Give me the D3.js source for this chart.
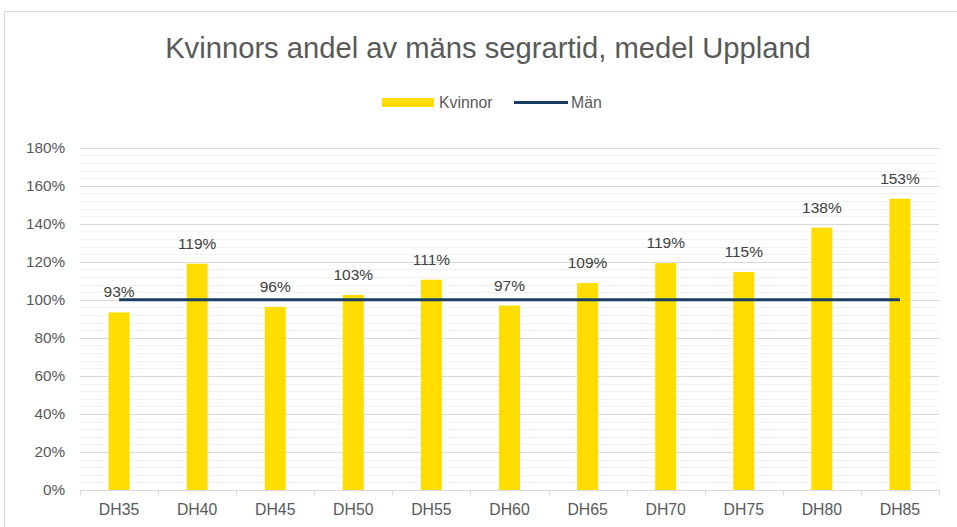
<!DOCTYPE html>
<html>
<head>
<meta charset="utf-8">
<script src="https://cdn.jsdelivr.net/npm/d3@7"></script>
<style>
  body { margin: 0; background: #fff; }
  svg { display: block; font-family: 'Liberation Sans', Arial, sans-serif; }
</style>
</head>
<body>
<div id="chart"></div>
<script>
var categories = ['DH35', 'DH40', 'DH45', 'DH50', 'DH55', 'DH60', 'DH65', 'DH70', 'DH75', 'DH80', 'DH85'];
var kvinnor = [0.934, 1.19, 0.963, 1.026, 1.106, 0.97, 1.088, 1.193, 1.146, 1.38, 1.532];
var man = [1, 1, 1, 1, 1, 1, 1, 1, 1, 1, 1];
var yTicks = [0, 0.2, 0.4, 0.6, 0.8, 1.0, 1.2, 1.4, 1.6, 1.8];

var width = 957, height = 527;
var margin = { left: 80, right: 18, top: 147.7, bottom: 37 };
var textColor = '#595959';
var yellow = '#ffdd00';
var navy = '#183e63';

var svg = d3.select('#chart').append('svg')
    .attr('width', width)
    .attr('height', height);

// outer chart border
svg.append('rect')
    .attr('x', 4.5).attr('y', 11.5)
    .attr('width', 970).attr('height', 530)
    .attr('fill', 'none')
    .attr('stroke', '#d9d9d9');

var x = d3.scaleBand()
    .domain(categories)
    .range([margin.left, width - margin.right]);

var y = d3.scaleLinear()
    .domain([0, 1.8])
    .range([height - margin.bottom, margin.top]);

// minor gridlines (every 4%)
var minor = d3.range(0, 1.8001, 0.04).filter(function(v) {
    return Math.abs(v * 5 - Math.round(v * 5)) > 1e-6;
});
svg.append('g').selectAll('line').data(minor).join('line')
    .attr('x1', margin.left).attr('x2', width - margin.right)
    .attr('y1', function(d) { return Math.round(y(d)) + 0.5; })
    .attr('y2', function(d) { return Math.round(y(d)) + 0.5; })
    .attr('stroke', '#f2f2f2');

// major gridlines
svg.append('g').selectAll('line').data(yTicks.slice(1)).join('line')
    .attr('x1', margin.left).attr('x2', width - margin.right)
    .attr('y1', function(d) { return Math.round(y(d)) + 0.5; })
    .attr('y2', function(d) { return Math.round(y(d)) + 0.5; })
    .attr('stroke', '#d9d9d9');

// y axis labels
svg.append('g').selectAll('text').data(yTicks).join('text')
    .attr('x', 65)
    .attr('y', function(d) { return y(d); })
    .attr('dy', '0.35em')
    .attr('text-anchor', 'end')
    .attr('fill', textColor)
    .style('font-size', '15.3px')
    .text(function(d) { return d3.format('.0%')(d); });

// x axis
var xAxis = svg.append('g')
    .attr('transform', 'translate(0,' + (Math.round(y(0)) + 0.5) + ')');
xAxis.append('line')
    .attr('x1', margin.left).attr('x2', width - margin.right)
    .attr('stroke', '#d9d9d9');
var bounds = categories.map(function(c) { return x(c); }).concat([width - margin.right]);
xAxis.selectAll('.tick').data(bounds).join('line')
    .attr('x1', function(d) { return Math.round(d) + 0.5; })
    .attr('x2', function(d) { return Math.round(d) + 0.5; })
    .attr('y1', 0).attr('y2', 5)
    .attr('stroke', '#d9d9d9');
xAxis.selectAll('text').data(categories).join('text')
    .attr('x', function(d) { return x(d) + x.bandwidth() / 2; })
    .attr('y', 24)
    .attr('text-anchor', 'middle')
    .attr('fill', textColor)
    .style('font-size', '15.8px')
    .text(function(d) { return d; });

// bars
var barW = 21;
svg.append('g').selectAll('rect').data(kvinnor).join('rect')
    .attr('x', function(d, i) { return x(categories[i]) + x.bandwidth() / 2 - barW / 2; })
    .attr('y', function(d) { return y(d); })
    .attr('width', barW)
    .attr('height', function(d) { return y(0) - y(d); })
    .attr('fill', yellow);

// data labels
svg.append('g').selectAll('text').data(kvinnor).join('text')
    .attr('x', function(d, i) { return x(categories[i]) + x.bandwidth() / 2; })
    .attr('y', function(d) { return y(d) - 15; })
    .attr('text-anchor', 'middle')
    .attr('fill', '#404040')
    .style('font-size', '15.5px')
    .text(function(d) { return d3.format('.0%')(d); });

// Män line
var line = d3.line()
    .x(function(d, i) { return x(categories[i]) + x.bandwidth() / 2; })
    .y(function(d) { return y(d); });
svg.append('path')
    .datum(man)
    .attr('d', line)
    .attr('fill', 'none')
    .attr('stroke', navy)
    .attr('stroke-width', 3);

// title
svg.append('text')
    .attr('x', 488).attr('y', 58)
    .attr('text-anchor', 'middle')
    .attr('fill', textColor)
    .style('font-size', '29.2px')
    .text('Kvinnors andel av mäns segrartid, medel Uppland');

// legend
var legend = svg.append('g');
legend.append('rect')
    .attr('x', 382).attr('y', 98)
    .attr('width', 52).attr('height', 9)
    .attr('fill', yellow);
legend.append('text')
    .attr('x', 439).attr('y', 107.5)
    .attr('fill', textColor)
    .style('font-size', '15.8px')
    .text('Kvinnor');
legend.append('line')
    .attr('x1', 514).attr('x2', 568)
    .attr('y1', 102.5).attr('y2', 102.5)
    .attr('stroke', navy)
    .attr('stroke-width', 3);
legend.append('text')
    .attr('x', 571).attr('y', 107.5)
    .attr('fill', textColor)
    .style('font-size', '15.8px')
    .text('Män');
</script>
</body>
</html>
